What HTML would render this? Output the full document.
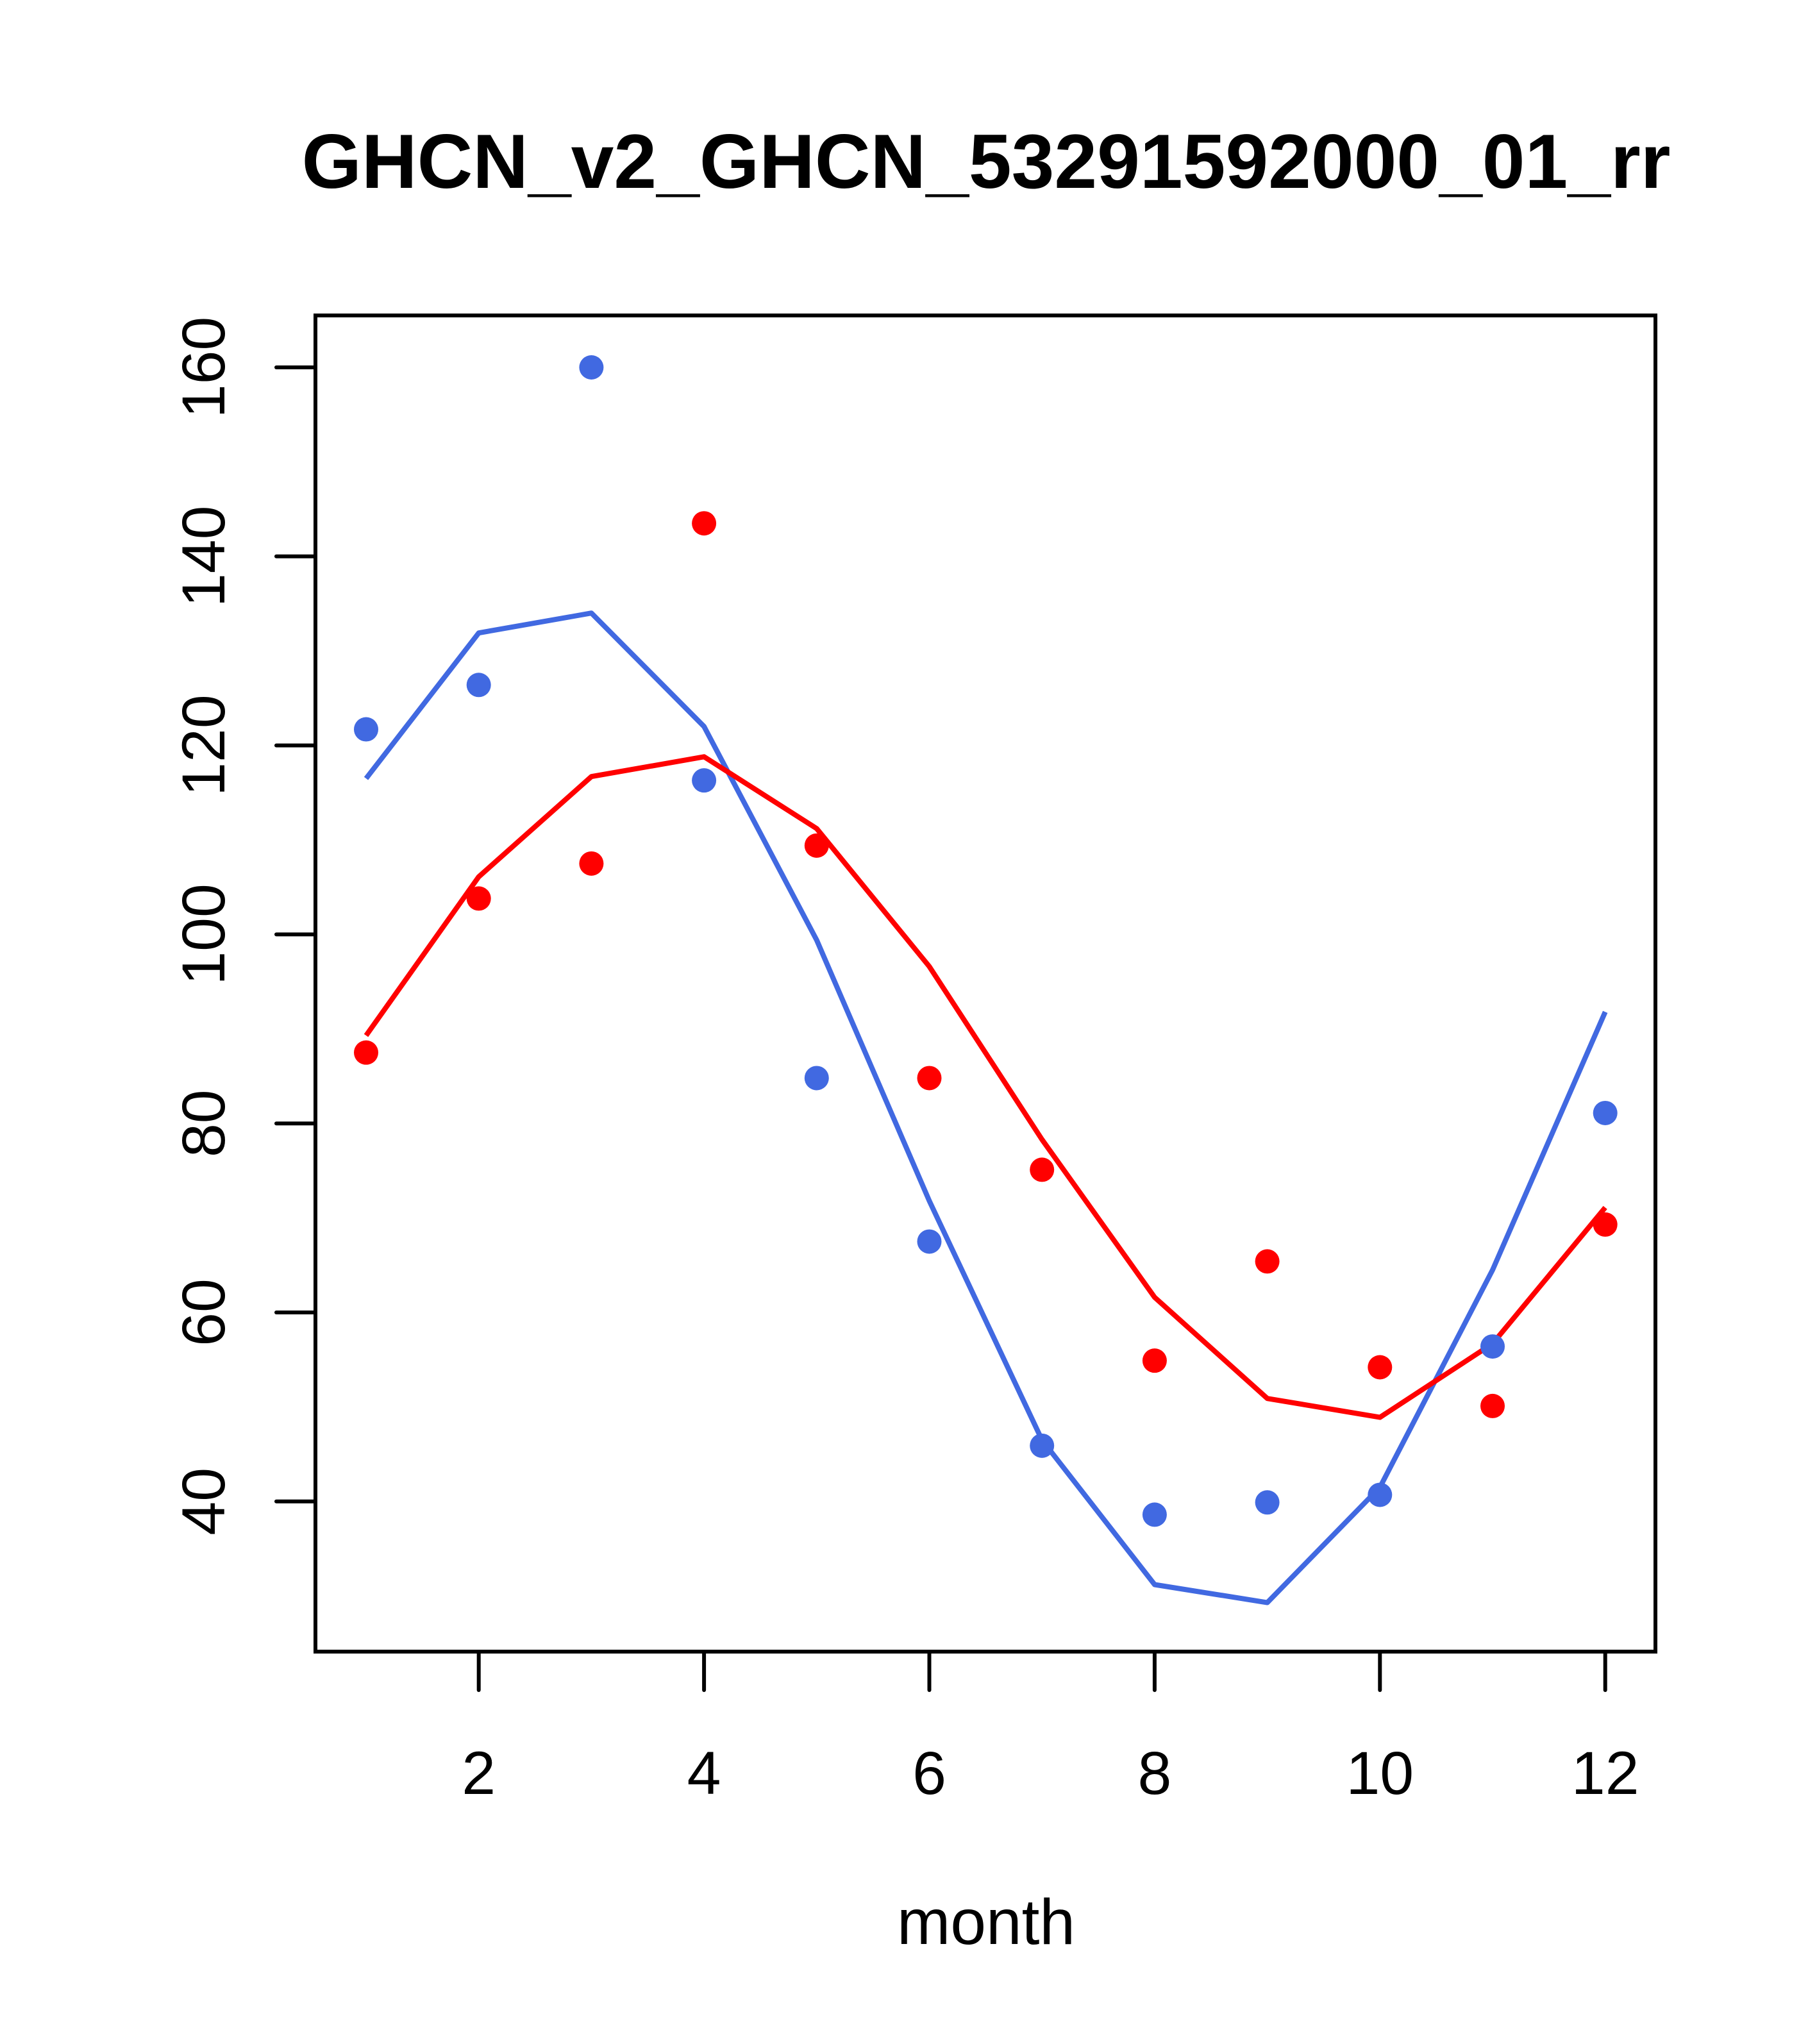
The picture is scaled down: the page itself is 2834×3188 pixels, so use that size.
<!DOCTYPE html>
<html><head><meta charset="utf-8"><style>html,body{margin:0;padding:0;background:#fff}svg{display:block}</style></head>
<body>
<svg id="chart" width="2834" height="3188" xmlns="http://www.w3.org/2000/svg" font-family="Liberation Sans, Arial, sans-serif">
<rect width="2834" height="3188" fill="#fff"/>
<text x="1538" y="293" font-size="120" font-weight="bold" text-anchor="middle">GHCN_v2_GHCN_53291592000_01_rr</text>
<text x="1538" y="3032" font-size="100" text-anchor="middle">month</text>
<g id="axes"></g>
<g id="marks"></g>
<rect x="492" y="492" width="2090" height="2084" fill="none" stroke="#000" stroke-width="6"/>
</svg>
<script>
const months = [1,2,3,4,5,6,7,8,9,10,11,12];
const bluePoints = [121.7,126.4,160.0,116.3,84.8,67.5,45.9,38.6,39.9,40.7,56.4,81.1];
const redPoints = [87.5,103.8,107.5,143.5,109.4,84.8,75.1,54.9,65.4,54.2,50.1,69.3];
const blueLine = [116.5,131.9,134.0,122.0,99.4,71.8,46.5,31.2,29.3,41.5,64.5,91.8];
const redLine = [89.3,106.1,116.7,118.8,111.2,96.6,78.3,61.6,50.9,48.9,56.7,71.1];
const xTicks = [2,4,6,8,10,12];
const yTicks = [40,60,80,100,120,140,160];

const NS = "http://www.w3.org/2000/svg";
function xs(v){ return 571 + (v-1)*175.7; }
function ys(v){ return 573 + (160-v)*14.74; }
const axes = document.getElementById('axes');
const marks = document.getElementById('marks');
function mk(tag, attrs, parent){ const e=document.createElementNS(NS,tag); for(const k in attrs) e.setAttribute(k,attrs[k]); parent.appendChild(e); return e; }

xTicks.forEach(t=>{
  const l = mk('line',{x1:xs(t),x2:xs(t),y1:2576,y2:2636,stroke:'#000','stroke-width':6,'stroke-linecap':'round'},axes);
  
  
  const tx = mk('text',{x:xs(t),y:2798,'font-size':95,'text-anchor':'middle'},axes);
  tx.textContent = t;
  
  
});
yTicks.forEach(t=>{
  const l = mk('line',{x1:431,x2:492,y1:ys(t),y2:ys(t),stroke:'#000','stroke-width':6,'stroke-linecap':'round'},axes);
  
  
  const tx = mk('text',{x:0,y:0,'font-size':95,'text-anchor':'middle',transform:`translate(350,${ys(t)}) rotate(-90)`},axes);
  tx.textContent = t;
  
  
});

function drawLine(vals, color, name){
  const p = mk('polyline',{points:vals.map((v,i)=>xs(months[i])+','+ys(v)).join(' '),fill:'none',stroke:color,'stroke-width':8,'stroke-linejoin':'round'},marks);
  
  
}
function drawPts(vals, color, name){
  vals.forEach((v,i)=>{
    const c = mk('circle',{cx:xs(months[i]),cy:ys(v),r:19,fill:color},marks);
    
    
  });
}
drawLine(blueLine,'#4169E1','blue-fit-line');
drawLine(redLine,'#FF0000','red-fit-line');
drawPts(bluePoints,'#4169E1','blue-point');
drawPts(redPoints,'#FF0000','red-point');
</script>
</body></html>
